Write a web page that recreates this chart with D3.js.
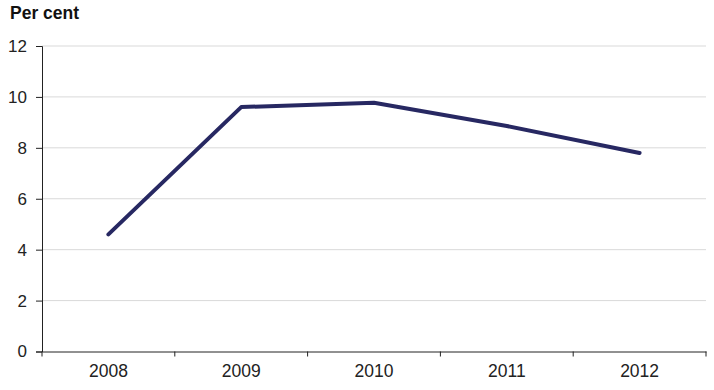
<!DOCTYPE html>
<html>
<head>
<meta charset="utf-8">
<script src="https://cdn.jsdelivr.net/npm/d3@7"></script>
<style>
  body { margin: 0; background: #fff; }
</style>
</head>
<body>
<script>
// Données
const years = ['2008', '2009', '2010', '2011', '2012'];
const values = [4.6, 9.6, 9.77, 8.86, 7.8];
const yTicks = [0, 2, 4, 6, 8, 10, 12];

const width = 714;
const height = 390;
const margin = { top: 46, right: 8, bottom: 38.5, left: 42 };

const svg = d3.select('body')
  .append('svg')
  .attr('width', width)
  .attr('height', height)
  .attr('style', 'font-family: "Liberation Sans", Arial, sans-serif');

const x = d3.scaleBand()
  .domain(years)
  .range([margin.left, width - margin.right]);

const y = d3.scaleLinear()
  .domain([0, 12])
  .range([height - margin.bottom, margin.top]);

// Grille
svg.append('g')
  .selectAll('line')
  .data(yTicks.filter(d => d > 0))
  .enter()
  .append('line')
  .attr('x1', margin.left)
  .attr('x2', width - margin.right)
  .attr('y1', d => y(d))
  .attr('y2', d => y(d))
  .attr('stroke', '#d9d9d9')
  .attr('stroke-width', 1);

// Axe vertical
svg.append('g')
  .attr('transform', `translate(${margin.left}, 0)`)
  .call(d3.axisLeft(y).tickValues(yTicks).tickSize(6).tickPadding(9))
  .call(g => g.selectAll('.domain, line').attr('stroke', '#222'))
  .call(g => g.selectAll('text').attr('font-size', 17).attr('fill', '#222'));

// Axe horizontal
svg.append('g')
  .attr('transform', `translate(0, ${height - margin.bottom})`)
  .call(d3.axisBottom(x).tickSize(0).tickPadding(13))
  .call(g => g.select('.domain').attr('stroke', '#222'))
  .call(g => g.selectAll('text').attr('font-size', 17.5).attr('fill', '#222'));

// Petites graduations entre les catégories
const edges = years.map(d => x(d)).concat([x.range()[1]]);
svg.append('g')
  .selectAll('line')
  .data(edges)
  .enter()
  .append('line')
  .attr('x1', d => d)
  .attr('x2', d => d)
  .attr('y1', height - margin.bottom)
  .attr('y2', height - margin.bottom + 5)
  .attr('stroke', '#222');

// Ligne
const line = d3.line()
  .x((d, i) => x(years[i]) + x.bandwidth() / 2)
  .y(d => y(d));

svg.append('path')
  .datum(values)
  .attr('fill', 'none')
  .attr('stroke', '#272862')
  .attr('stroke-width', 4)
  .attr('stroke-linejoin', 'round')
  .attr('stroke-linecap', 'round')
  .attr('d', line);

// Titre
svg.append('text')
  .attr('x', 10)
  .attr('y', 19)
  .attr('font-size', 17.5)
  .attr('font-weight', 'bold')
  .attr('fill', '#111')
  .text('Per cent');
</script>
</body>
</html>
